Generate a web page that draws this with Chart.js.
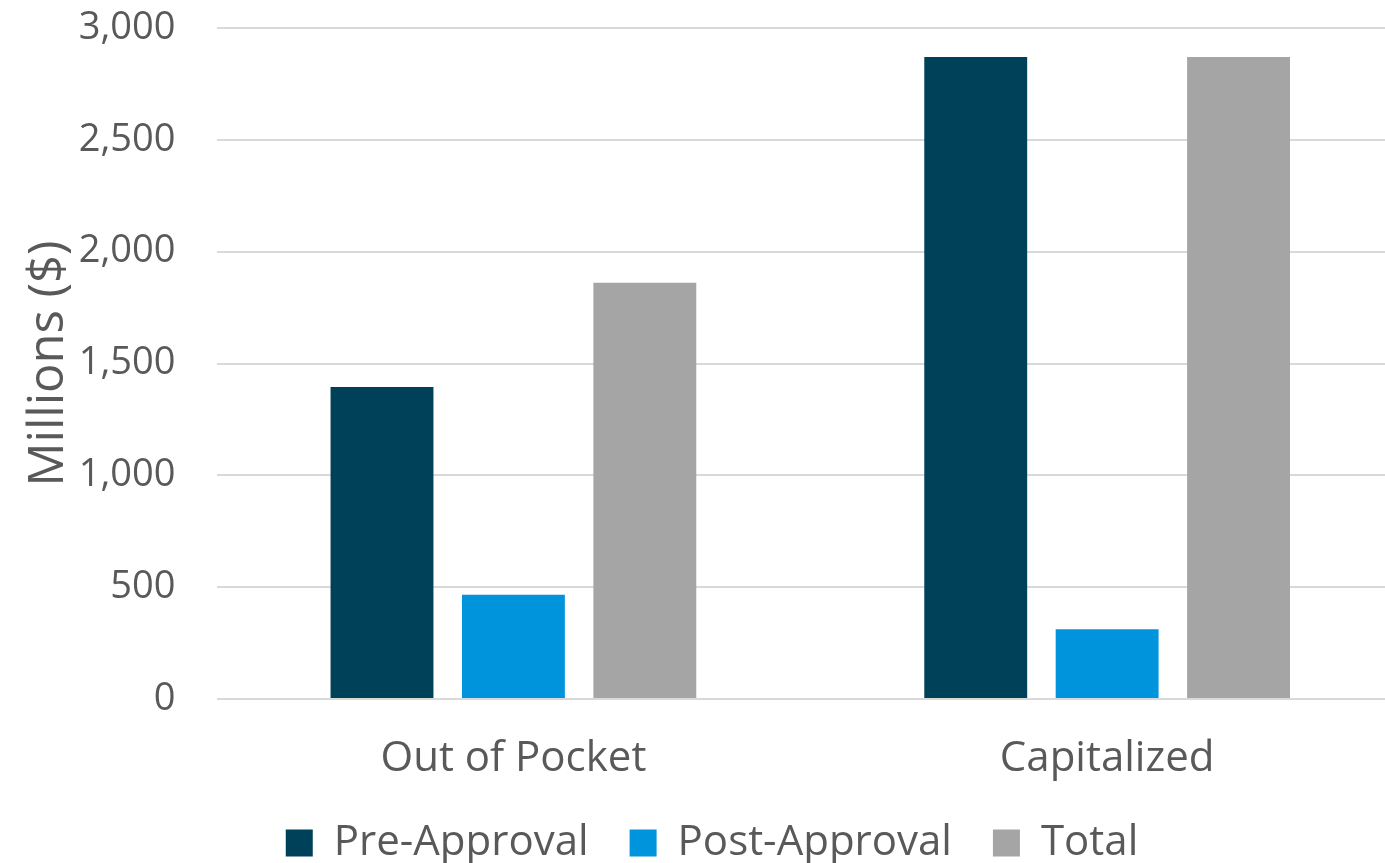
<!DOCTYPE html>
<html>
<head>
<meta charset="utf-8">
<script src="https://cdn.jsdelivr.net/npm/chart.js@4"></script>
<style>
  html, body { margin: 0; padding: 0; background: #fff; overflow: hidden; }
  #wrap { width: 1404px; height: 863px; position: relative; }
</style>
</head>
<body>
<div id="wrap"><canvas id="chart"></canvas></div>
<script>
const categories = ['Out of Pocket', 'Capitalized'];
const seriesNames = ['Pre-Approval', 'Post-Approval', 'Total'];
const preApproval = [1395, 2870];
const postApproval = [466, 312];
const total = [1861, 2870];
const seriesColors = ['#00415A', '#0094DC', '#A5A5A5'];

const FONT = '"Open Sans", sans-serif';
const TEXT = '#595959';

new Chart(document.getElementById('chart'), {
    type: 'bar',
    data: {
        labels: categories,
        datasets: [preApproval, postApproval, total].map((data, i) => ({
            label: seriesNames[i],
            data,
            backgroundColor: seriesColors[i],
            borderWidth: 0,
            categoryPercentage: 0.664,
            barPercentage: 0.783
        }))
    },
    options: {
        responsive: true,
        maintainAspectRatio: false,
        animation: false,
        layout: { padding: { top: 28, left: 20, right: 0, bottom: -11 } },
        plugins: {
            tooltip: { enabled: false },
            legend: {
                position: 'bottom',
                labels: {
                    color: TEXT,
                    font: { family: FONT, size: 42 },
                    boxWidth: 27,
                    boxHeight: 27,
                    padding: 41
                }
            }
        },
        scales: {
            x: {
                grid: { display: false },
                border: { display: false },
                ticks: { color: TEXT, font: { family: FONT, size: 42, lineHeight: 1 }, padding: 31 },
                // fixed axis height so the plot reaches down to the reference baseline
                afterFit: s => { s.height = 82; }
            },
            y: {
                min: 0,
                max: 3000,
                ticks: {
                    stepSize: 500,
                    color: TEXT,
                    font: { family: FONT, size: 38 },
                    padding: 0,
                    callback: v => v.toLocaleString('en-US')
                },
                // invisible tick marks make the gap between labels and gridlines
                grid: {
                    color: '#D9D9D9',
                    lineWidth: 2,
                    drawTicks: true,
                    tickLength: 41,
                    tickColor: 'rgba(0,0,0,0)'
                },
                border: { display: false },
                title: {
                    display: true,
                    text: 'Millions ($)',
                    color: TEXT,
                    font: { family: FONT, size: 49 },
                    padding: 0
                }
            }
        }
    }
});
</script>
</body>
</html>
